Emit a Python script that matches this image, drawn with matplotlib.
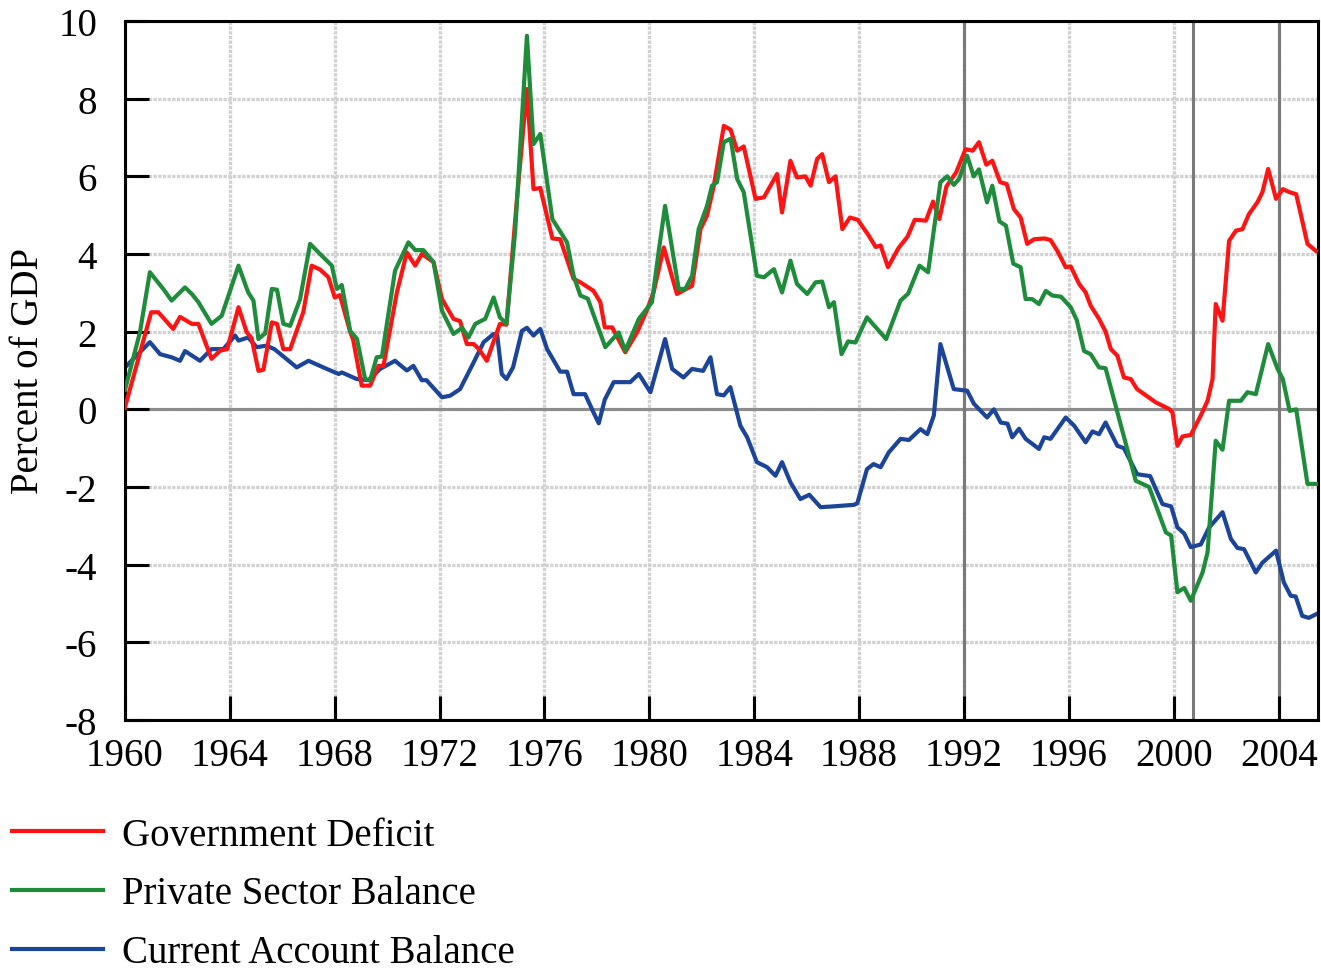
# Sectoral balances of the US economy, percent of GDP, 1960-2005

import matplotlib
matplotlib.use("Agg")
import matplotlib.pyplot as plt


# Government deficit
gov_years = [1960.0, 1961.0, 1961.27, 1961.84, 1962.1, 1962.55, 1962.8, 1963.3, 1963.63, 1963.9,
             1964.33, 1964.64, 1964.83, 1965.09, 1965.28, 1965.6, 1965.8, 1966.04, 1966.3, 1966.8,
             1967.12, 1967.44, 1967.76, 1968.0, 1968.2, 1968.59, 1968.7, 1969.03, 1969.35, 1969.67,
             1969.86, 1970.37, 1970.75, 1971.07, 1971.32, 1971.77, 1972.09, 1972.53, 1972.78, 1973.04,
             1973.3, 1973.5, 1973.8, 1974.3, 1974.55, 1974.95, 1975.33, 1975.58, 1975.84, 1976.3,
             1976.6, 1977.11, 1977.37, 1977.87, 1978.13, 1978.3, 1978.58, 1979.08, 1979.53, 1979.9,
             1980.16, 1980.55, 1981.05, 1981.63, 1981.95, 1982.2, 1982.46, 1982.84, 1983.1, 1983.35,
             1983.6, 1984.05, 1984.37, 1984.87, 1985.06, 1985.38, 1985.63, 1985.95, 1986.15, 1986.4,
             1986.59, 1986.85, 1987.1, 1987.36, 1987.65, 1987.95, 1988.37, 1988.63, 1988.82, 1989.1,
             1989.5, 1989.85, 1990.12, 1990.55, 1990.82, 1991.06, 1991.33, 1991.7, 1992.06, 1992.33,
             1992.57, 1992.85, 1993.08, 1993.38, 1993.63, 1993.9, 1994.16, 1994.41, 1994.67, 1995.06,
             1995.3, 1995.56, 1995.88, 1996.07, 1996.39, 1996.64, 1996.83, 1997.15, 1997.4, 1997.6,
             1997.85, 1998.1, 1998.36, 1998.6, 1999.31, 1999.82, 1999.95, 2000.14, 2000.33, 2000.65,
             2001.03, 2001.29, 2001.48, 2001.6, 2001.86, 2002.11, 2002.37, 2002.62, 2002.87, 2003.19,
             2003.38, 2003.6, 2003.9, 2004.16, 2004.42, 2004.67, 2005.1, 2005.42]
gov_vals = [0.05, 2.5, 2.5, 2.07, 2.38, 2.2, 2.2, 1.3, 1.51, 1.55,
            2.63, 1.99, 1.83, 0.99, 1.02, 2.24, 2.2, 1.55, 1.55, 2.5,
            3.7, 3.6, 3.4, 2.88, 2.94, 1.99, 1.8, 0.61, 0.61, 1.12,
            1.12, 3.01, 4.04, 3.7, 4.0, 3.79, 2.84, 2.33, 2.27, 1.68,
            1.68, 1.55, 1.25, 2.2, 2.18, 5.41, 8.25, 5.67, 5.7, 4.4,
            4.38, 3.36, 3.27, 3.05, 2.76, 2.11, 2.11, 1.47, 1.98, 2.54,
            3.01, 4.17, 2.97, 3.18, 4.64, 4.99, 5.76, 7.3, 7.2, 6.66,
            6.77, 5.42, 5.46, 6.06, 5.07, 6.4, 5.97, 6.0, 5.76, 6.45,
            6.57, 5.85, 6.0, 4.64, 4.94, 4.88, 4.47, 4.18, 4.22, 3.66,
            4.15, 4.45, 4.88, 4.86, 5.35, 4.9, 5.74, 6.1, 6.7, 6.66,
            6.88, 6.3, 6.4, 5.85, 5.8, 5.16, 4.94, 4.26, 4.38, 4.4,
            4.36, 4.08, 3.66, 3.68, 3.23, 3.01, 2.67, 2.33, 2.0, 1.55,
            1.38, 0.82, 0.78, 0.52, 0.18, 0.01, -0.08, -0.94, -0.7, -0.66,
            -0.16, 0.22, 0.78, 2.71, 2.28, 4.34, 4.6, 4.64, 5.03, 5.33,
            5.59, 6.19, 5.42, 5.67, 5.59, 5.54, 4.26, 4.08]

# Private sector balance
priv_years = [1960.0, 1960.57, 1960.95, 1961.46, 1961.78, 1962.29, 1962.55, 1962.8, 1963.3, 1963.69,
              1964.33, 1964.7, 1964.9, 1965.09, 1965.35, 1965.6, 1965.8, 1966.04, 1966.3, 1966.68,
              1967.06, 1967.44, 1967.89, 1968.08, 1968.27, 1968.59, 1968.85, 1969.16, 1969.35, 1969.6,
              1969.8, 1970.3, 1970.81, 1971.07, 1971.38, 1971.77, 1972.09, 1972.53, 1972.86, 1973.1,
              1973.36, 1973.74, 1974.06, 1974.3, 1974.55, 1974.88, 1975.33, 1975.58, 1975.84, 1976.3,
              1976.86, 1977.11, 1977.37, 1977.65, 1978.32, 1978.83, 1979.08, 1979.6, 1980.1, 1980.35,
              1980.6, 1981.12, 1981.37, 1981.63, 1981.88, 1982.2, 1982.39, 1982.58, 1982.84, 1983.1,
              1983.35, 1983.6, 1984.1, 1984.37, 1984.75, 1985.06, 1985.38, 1985.63, 1986.02, 1986.34,
              1986.59, 1986.85, 1987.04, 1987.33, 1987.58, 1987.86, 1988.3, 1989.03, 1989.58, 1989.87,
              1990.3, 1990.63, 1991.1, 1991.36, 1991.61, 1991.81, 1992.12, 1992.37, 1992.57, 1992.88,
              1993.08, 1993.35, 1993.6, 1993.88, 1994.16, 1994.35, 1994.6, 1994.86, 1995.12, 1995.37,
              1995.7, 1996.07, 1996.3, 1996.58, 1996.83, 1997.15, 1997.4, 1998.55, 1999.06, 1999.7,
              1999.9, 2000.14, 2000.4, 2000.65, 2001.1, 2001.29, 2001.6, 2001.86, 2002.11, 2002.56,
              2002.81, 2003.13, 2003.6, 2003.96, 2004.16, 2004.42, 2004.67, 2005.1, 2005.42]
priv_vals = [0.5, 1.98, 3.53, 3.1, 2.8, 3.14, 2.97, 2.76, 2.2, 2.41,
             3.7, 3.01, 2.8, 1.81, 1.96, 3.1, 3.08, 2.2, 2.15, 2.84,
             4.26, 4.0, 3.7, 3.1, 3.2, 2.02, 1.81, 0.78, 0.75, 1.34,
             1.36, 3.57, 4.3, 4.1, 4.1, 3.79, 2.54, 1.94, 2.1, 1.85,
             2.2, 2.33, 2.88, 2.37, 2.2, 4.56, 9.62, 6.83, 7.09, 4.9,
             4.3, 3.44, 2.93, 2.85, 1.6, 1.98, 1.51, 2.33, 2.76, 4.04,
             5.24, 3.1, 3.1, 3.44, 4.64, 5.24, 5.76, 5.85, 6.88, 6.97,
             5.93, 5.59, 3.44, 3.4, 3.61, 3.01, 3.83, 3.23, 2.97, 3.27,
             3.29, 2.63, 2.76, 1.42, 1.75, 1.72, 2.37, 1.81, 2.8, 2.98,
             3.7, 3.53, 5.85, 6.0, 5.78, 5.93, 6.53, 6.0, 6.18, 5.33,
             5.76, 4.84, 4.73, 3.75, 3.66, 2.84, 2.84, 2.71, 3.05, 2.93,
             2.9, 2.63, 2.3, 1.5, 1.42, 1.08, 1.06, -1.84, -2.0, -3.17,
             -3.25, -4.71, -4.6, -4.93, -4.2, -3.68, -0.81, -1.04, 0.22, 0.22,
             0.44, 0.39, 1.68, 1.04, 0.78, -0.04, 0.0, -1.92, -1.92]

# Current account balance
ca_years = [1960.0, 1960.95, 1961.34, 1961.78, 1962.1, 1962.29, 1962.86, 1963.3, 1963.75, 1964.2,
            1964.33, 1964.7, 1965.02, 1965.4, 1965.7, 1966.55, 1967.0, 1967.7, 1968.15, 1968.27,
            1968.84, 1969.29, 1969.73, 1970.3, 1970.75, 1971.0, 1971.32, 1971.5, 1972.09, 1972.4,
            1972.78, 1973.3, 1973.68, 1974.06, 1974.2, 1974.37, 1974.55, 1974.8, 1975.14, 1975.33,
            1975.58, 1975.84, 1976.1, 1976.6, 1976.86, 1977.11, 1977.55, 1977.87, 1978.07, 1978.3,
            1978.64, 1979.27, 1979.6, 1980.04, 1980.6, 1980.87, 1981.3, 1981.63, 1982.05, 1982.33,
            1982.58, 1982.84, 1983.09, 1983.47, 1983.73, 1984.1, 1984.49, 1984.81, 1985.06, 1985.38,
            1985.76, 1986.1, 1986.53, 1987.0, 1987.4, 1987.8, 1987.93, 1988.3, 1988.55, 1988.82,
            1989.13, 1989.58, 1989.9, 1990.34, 1990.6, 1990.85, 1991.1, 1991.61, 1992.12, 1992.38,
            1992.88, 1993.14, 1993.4, 1993.66, 1993.84, 1994.1, 1994.35, 1994.86, 1995.06, 1995.3,
            1995.88, 1996.2, 1996.64, 1996.9, 1997.15, 1997.4, 1997.85, 1998.1, 1998.6, 1999.1,
            1999.57, 1999.9, 2000.14, 2000.4, 2000.65, 2001.03, 2001.35, 2001.86, 2002.18, 2002.43,
            2002.68, 2003.13, 2003.38, 2003.9, 2004.2, 2004.46, 2004.65, 2004.9, 2005.15, 2005.42]
ca_vals = [1.08, 1.73, 1.42, 1.34, 1.25, 1.5, 1.25, 1.55, 1.55, 1.9,
           1.77, 1.85, 1.6, 1.64, 1.55, 1.08, 1.25, 1.04, 0.91, 0.95,
           0.78, 0.75, 1.04, 1.25, 1.0, 1.12, 0.75, 0.75, 0.31, 0.35,
           0.52, 1.21, 1.73, 1.94, 1.9, 0.91, 0.78, 1.08, 2.02, 2.1,
           1.9, 2.07, 1.55, 0.97, 0.97, 0.39, 0.39, -0.08, -0.36, 0.25,
           0.7, 0.7, 0.91, 0.44, 1.81, 1.04, 0.82, 1.04, 0.99, 1.34,
           0.39, 0.36, 0.57, -0.42, -0.72, -1.36, -1.49, -1.71, -1.36, -1.88,
           -2.31, -2.2, -2.52, -2.5, -2.48, -2.46, -2.42, -1.54, -1.41, -1.49,
           -1.11, -0.76, -0.79, -0.51, -0.64, -0.16, 1.68, 0.52, 0.48, 0.14,
           -0.21, 0.0, -0.34, -0.37, -0.72, -0.5, -0.76, -1.02, -0.72, -0.76,
           -0.21, -0.42, -0.85, -0.57, -0.64, -0.34, -0.94, -1.0, -1.67, -1.72,
           -2.44, -2.5, -3.04, -3.2, -3.55, -3.48, -3.04, -2.65, -3.34, -3.57,
           -3.6, -4.2, -3.95, -3.64, -4.46, -4.8, -4.82, -5.32, -5.37, -5.28]

labels = ['Government Deficit', 'Private Sector Balance', 'Current Account Balance']
colors = ['#ff1414', '#1e8c3a', '#1c4599']
year_ticks = list(range(1960, 2005, 4))
marker_years = [1992, 2000.75, 2004]

plt.rcParams['font.family'] = ['Liberation Serif', 'DejaVu Serif']
plt.rcParams['axes.unicode_minus'] = False

fig = plt.figure(figsize=(13.21, 9.78), dpi=100)
ax = fig.add_axes([0.0946, 0.2628, 0.9031, 0.7147])

# grid and reference lines
for y in range(-8, 11, 2):
    ax.axhline(y, color='#d2d2d2', lw=2.4, ls=(0, (1, 0.4)), zorder=0)
for x in year_ticks:
    ax.axvline(x, color='#d2d2d2', lw=2.4, ls=(0, (1, 0.4)), zorder=0)
ax.axhline(0, color='#8c8c8c', lw=2.2, zorder=1)
for x in marker_years:
    ax.axvline(x, color='#7a7a7a', lw=2.2, zorder=1)

ax.plot(gov_years, gov_vals, color=colors[0], lw=3, label=labels[0], zorder=3)
ax.plot(priv_years, priv_vals, color=colors[1], lw=3, label=labels[1], zorder=4)
ax.plot(ca_years, ca_vals, color=colors[2], lw=3, label=labels[2], zorder=2)

ax.set_xlim(1960, 2005.5)
ax.set_ylim(-8, 10)
ax.set_xticks(year_ticks)
ax.set_yticks(range(-8, 11, 2))
ax.tick_params(axis='both', direction='in', length=17, width=2.2, labelsize=28,
               top=False, right=False)
ax.tick_params(axis='y', pad=20)
ax.tick_params(axis='x', pad=12)
for side in ['left', 'bottom', 'top', 'right']:
    ax.spines[side].set_linewidth(2.2)

ax.set_ylabel('Percent of GDP', fontsize=28, labelpad=8)

fig.legend(loc='upper left', bbox_to_anchor=(0.009, 0.164), frameon=False,
           fontsize=28, handlelength=2.33, handletextpad=0.49, labelspacing=0.56,
           borderaxespad=0, borderpad=0)

fig.savefig('out.png', dpi=100)
